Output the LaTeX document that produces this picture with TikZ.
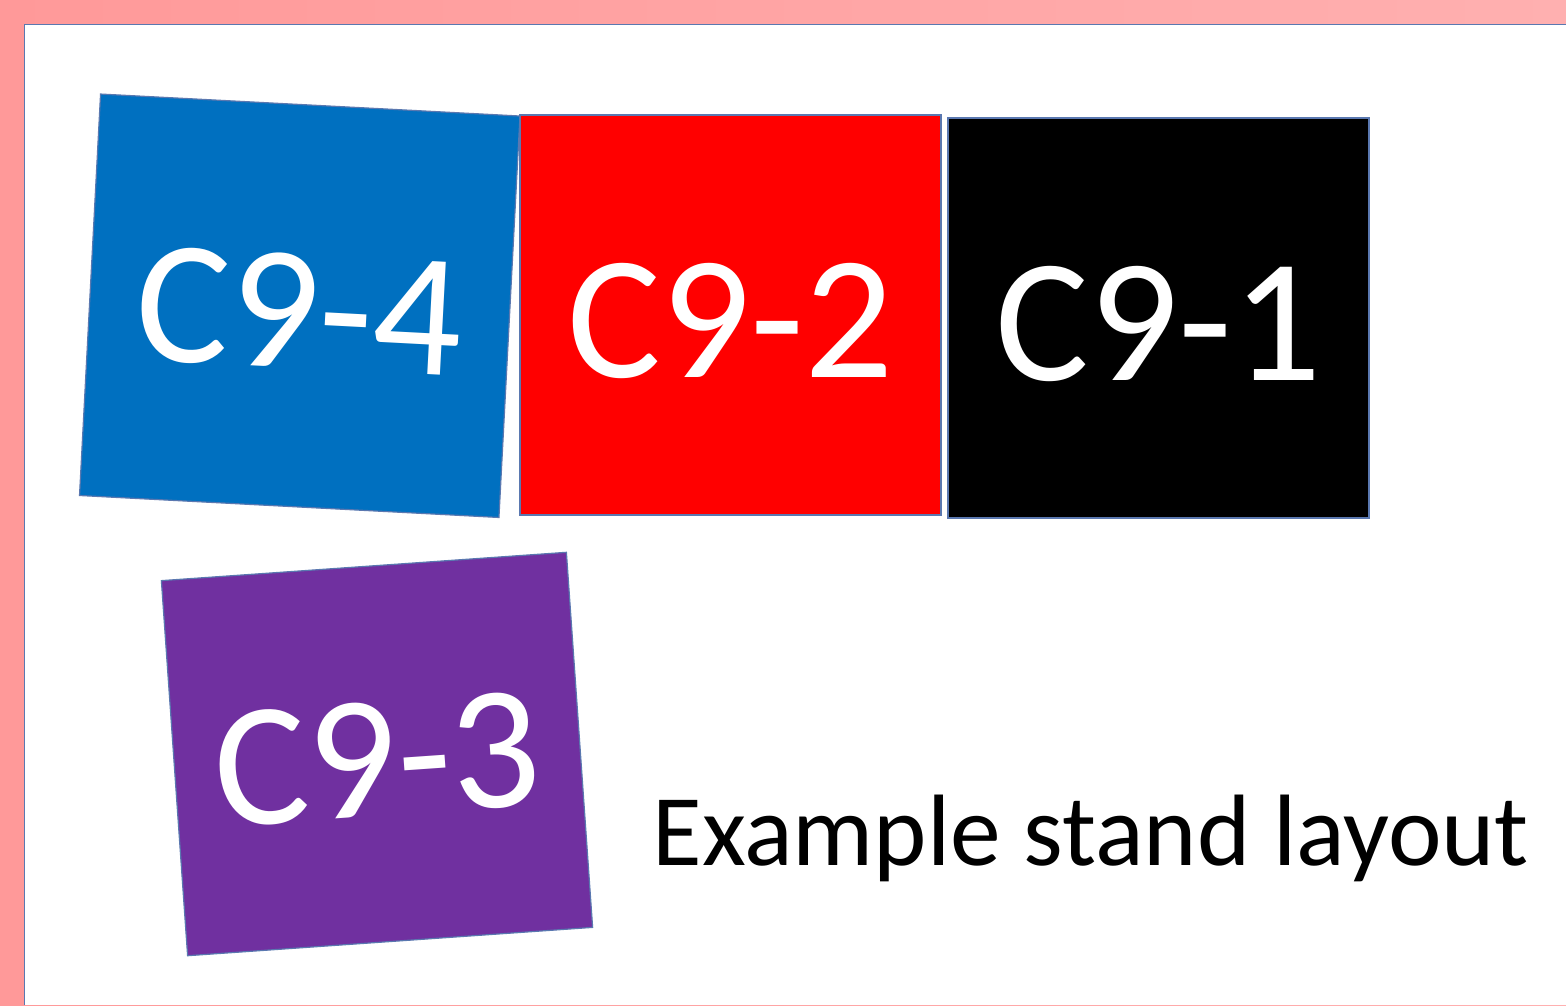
\documentclass[tikz,border=0pt]{standalone}
\usepackage{fontspec}
\setmainfont{Carlito}
\definecolor{standblue}{HTML}{0070C0}
\definecolor{standred}{HTML}{FF0000}
\definecolor{standblack}{HTML}{000000}
\definecolor{standpurple}{HTML}{7030A0}
\definecolor{edgeblue}{HTML}{5A78B0}
\definecolor{pinkleft}{HTML}{FF9999}
\definecolor{pinkright}{HTML}{FFB0B0}
\begin{document}
\begin{tikzpicture}[x=1pt,y=-1pt,
  stand/.style={draw=edgeblue, line width=1.2pt, inner sep=0pt, text=white,
    text height=124pt, text depth=0pt,
    font=\fontsize{176}{176}\selectfont},
  caption/.style={anchor=base west, text=black, font=\fontsize{101.5}{101.5}\selectfont},
]
\useasboundingbox (0,0) rectangle (1566,1005);
% page frame: pink margin with a white sheet
\shade[left color=pinkleft, right color=pinkright] (0,0) rectangle (1566,1005);
\fill[white] (24.5,24.5) rectangle (1566,1005);
\draw[edgeblue, line width=1.5pt] (24.5,1005) -- (24.5,24.5) -- (1566,24.5);

% stands
\node[stand, fill=standblue, minimum width=420pt, minimum height=402pt, rotate=-3]
  (c94) at (299.75,305.75) {C9-4};
\node[stand, fill=standred, minimum width=421pt, minimum height=400pt]
  (c92) at (730.5,315) {C9-2};
\node[stand, fill=standblack, minimum width=421pt, minimum height=400pt]
  (c91) at (1158.5,318) {C9-1};
\node[stand, fill=standpurple, minimum width=406pt, minimum height=376pt, rotate=4]
  (c93) at (377,754) {C9-3};

\node[caption] (title) at (649,865) {Example stand layout};
\end{tikzpicture}
\end{document}
